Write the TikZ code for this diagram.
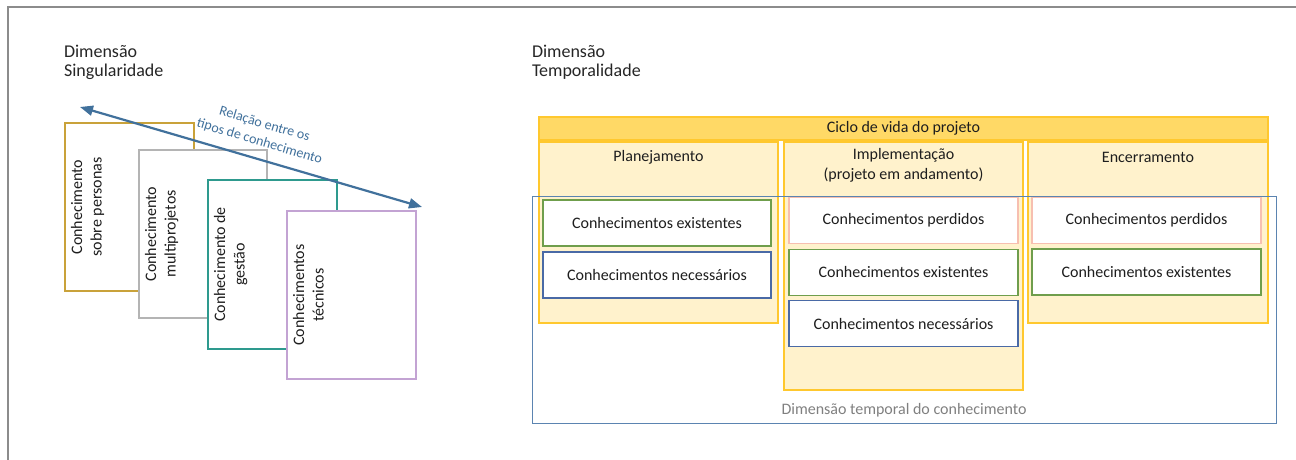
\documentclass[tikz,border=0pt]{standalone}
\usepackage{fontspec}
\setmainfont{Carlito}
\usetikzlibrary{arrows.meta}
\definecolor{framegray}{HTML}{8C8C8C}
\definecolor{txt}{HTML}{1E1E1E}
\definecolor{goldb}{HTML}{C9A23A}
\definecolor{grayb}{HTML}{B4B4B4}
\definecolor{tealb}{HTML}{2E9A8E}
\definecolor{lavb}{HTML}{C3A3D3}
\definecolor{arrblue}{HTML}{41719C}
\definecolor{colfill}{HTML}{FFF2CC}
\definecolor{colborder}{HTML}{FFC82E}
\definecolor{barfill}{HTML}{FFD966}
\definecolor{greenb}{HTML}{6F9E4C}
\definecolor{pinkb}{HTML}{F7BFB0}
\definecolor{blueb}{HTML}{4A6AA6}
\definecolor{outerblue}{HTML}{5B84B1}
\definecolor{graytxt}{HTML}{808080}
\newcommand\fsA{\fontsize{16}{19.5}\selectfont}
\newcommand\fsT{\fontsize{18}{19}\selectfont}
\newcommand\fsS{\fontsize{14}{18}\selectfont}
\begin{document}
\begin{tikzpicture}[x=1pt,y=-1pt,
  every node/.style={text=txt, font=\fsA, inner sep=0pt, outer sep=0pt},
  kbox/.style={draw, fill=white, line width=1.3pt, minimum width=129pt, minimum height=168pt, anchor=north west},
  ktext/.style={rotate=90, anchor=north, align=center},
  title/.style={font=\fsT, align=left, anchor=west, text=black!85},
  arr/.style={draw=arrblue, line width=2.2pt, {Triangle[length=13pt,width=10pt]}-{Triangle[length=13pt,width=10pt]}},
  arrlabel/.style={font=\fsS, text=arrblue, align=center, rotate=-16.5},
  colbox/.style={draw=colborder, fill=colfill, line width=1.3pt, anchor=north west},
  barbox/.style={draw=colborder, fill=barfill, line width=1.3pt, anchor=north west, minimum width=729pt, minimum height=23pt},
  ibox/.style={draw, fill=white, line width=1.1pt, anchor=north west, minimum height=46pt},
  outerbox/.style={draw=outerblue, line width=1pt, anchor=north west, minimum width=744pt, minimum height=227pt}
]
\useasboundingbox (0,0) rectangle (1296,460);
\fill[white] (0,0) rectangle (1296,460);
\draw[framegray, line width=1.5pt] (8,460) -- (8,7) -- (1296,7);

% titles
\node[title] (tS) at (64,62) {Dimensão\\Singularidade};
\node[title] (tT) at (532,62) {Dimensão\\Temporalidade};

% left stacked boxes
\node[kbox, draw=goldb] (b1) at (65,123) {};
\node[ktext] (t1) at (71,207) {Conhecimento\\sobre personas};
\node[kbox, draw=grayb, minimum width=128pt] (b2) at (139,150) {};
\node[ktext] (t2) at (145,234) {Conhecimento\\multiprojetos};
\node[kbox, draw=tealb, minimum height=169pt] (b3) at (208,180) {};
\node[ktext] (t3) at (214,264.5) {Conhecimento de\\gestão};
\node[kbox, draw=lavb] (b4) at (287,211) {};
\node[ktext] (t4) at (293,295) {Conhecimentos\\técnicos};

% arrow
\coordinate (aL) at (80,107);
\coordinate (aR) at (422,207);
\draw[arr] (aL) -- (aR);
\node[arrlabel] (al) at (262,133) {Relação entre os\\tipos de conhecimento};

% right side
\node[barbox] (ciclo) at (539,117) {};
\node (ciclot) at (903.5,128.5) {Ciclo de vida do projeto};

\node[colbox, minimum width=239pt, minimum height=181pt] (plan) at (539,142) {};
\node[colbox, minimum width=239pt, minimum height=248pt] (impl) at (784,142) {};
\node[colbox, minimum width=240pt, minimum height=181pt] (enc) at (1028,142) {};
\node (plant) at (658.5,157) {Planejamento};
\node[align=center] (implt) at (903.5,165.5) {Implementação\\(projeto em andamento)};
\node (enct) at (1148,157) {Encerramento};

\node[outerbox] (outer) at (532,196) {};
\node[text=graytxt] (outert) at (904,410) {Dimensão temporal do conhecimento};

\node[ibox, draw=greenb, minimum width=228pt] (p1) at (543,200) {};
\node (p1t) at (657,223) {Conhecimentos existentes};
\node[ibox, draw=blueb, minimum width=228pt] (p2) at (543,252) {};
\node (p2t) at (657,275) {Conhecimentos necessários};

\node[ibox, draw=pinkb, minimum width=229pt] (i1) at (789,197.5) {};
\node (i1t) at (903.5,220.5) {Conhecimentos perdidos};
\node[ibox, draw=greenb, minimum width=229pt] (i2) at (789,249.3) {};
\node (i2t) at (903.5,272.3) {Conhecimentos existentes};
\node[ibox, draw=blueb, minimum width=229pt] (i3) at (789,300.7) {};
\node (i3t) at (903.5,323.7) {Conhecimentos necessários};

\node[ibox, draw=pinkb, minimum width=229pt] (e1) at (1032,197.3) {};
\node (e1t) at (1146.5,220.3) {Conhecimentos perdidos};
\node[ibox, draw=greenb, minimum width=229pt] (e2) at (1032,249) {};
\node (e2t) at (1146.5,272) {Conhecimentos existentes};
\end{tikzpicture}
\end{document}
